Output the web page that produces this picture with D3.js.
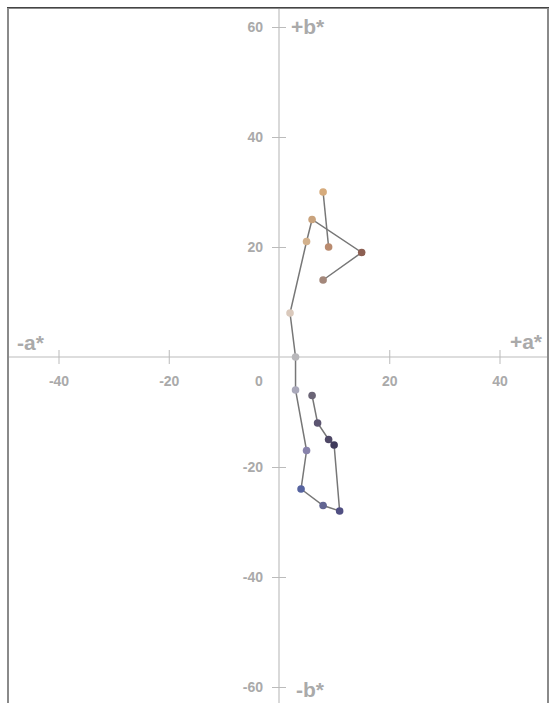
<!DOCTYPE html>
<html>
<head>
<meta charset="utf-8">
<script src="https://cdn.jsdelivr.net/npm/d3@7"></script>
<style>
  body { margin: 0; background: #fff; }
  svg { display: block; }
  text { font-family: "Liberation Sans", Arial, Helvetica, sans-serif; }
</style>
</head>
<body>
<script>
// a*b* chromaticity plot

let w = 553;
let h = 703;

// separate segment (two points)
let segA = [8, 9];
let segB = [30, 20];
let segColors = ['#d6ab7c', '#b98b6f'];

// main chain
let chainA = [8, 15, 6, 5, 2, 3, 3, 5, 4, 8, 11, 10, 9, 7, 6];
let chainB = [14, 19, 25, 21, 8, 0, -6, -17, -24, -27, -28, -16, -15, -12, -7];
let chainColors = ['#a3877a', '#8c5f52', '#c9a37d', '#d3b18c', '#dac9bc', '#b9b8bb',
    '#a9a8ba', '#8782ab', '#56639f', '#626592', '#504f82', '#3f3a5b', '#4e4866',
    '#5c5571', '#6b6576'];

let xTicks = [-40, -20, 20, 40];
let yTicks = [-60, -40, -20, 20, 40, 60];

let svg = d3.select('body').append('svg').attr('width', w).attr('height', h);

let x = d3.scaleLinear().domain([-40, 40]).range([58.5, 499.5]);
let y = d3.scaleLinear().domain([60, -60]).range([27, 687]);

// frame
svg.append('rect')
    .attr('x', 8).attr('y', 8)
    .attr('width', 540).attr('height', 720)
    .attr('fill', 'none')
    .attr('stroke', '#8a8a8a')
    .attr('stroke-width', 2);
svg.append('line')
    .attr('x1', 7).attr('x2', 549)
    .attr('y1', 7.5).attr('y2', 7.5)
    .attr('stroke', '#444').attr('stroke-width', 1);

let fmt = d => String(d);

// x axis
let gx = svg.append('g')
    .attr('transform', `translate(0,${y(0)})`)
    .call(d3.axisBottom(x).tickValues(xTicks).tickFormat(fmt).tickSize(7).tickPadding(0));
gx.select('.domain').remove();
gx.append('line')
    .attr('x1', 9).attr('x2', 547)
    .attr('stroke', '#bbb').attr('stroke-width', 1);
gx.selectAll('.tick line').attr('y1', -7).attr('y2', 7).attr('stroke', '#bbb');
gx.selectAll('.tick text')
    .attr('y', 29).attr('dy', 0)
    .attr('fill', '#aaa')
    .attr('font-size', '14px')
    .attr('font-weight', 'bold')
    .attr('font-family', '"Liberation Sans", Arial, sans-serif');

// y axis
let gy = svg.append('g')
    .attr('transform', `translate(${x(0)},0)`)
    .call(d3.axisLeft(y).tickValues(yTicks).tickFormat(fmt).tickSize(7).tickPadding(0));
gy.select('.domain').remove();
gy.insert('line', ':first-child')
    .attr('y1', 9).attr('y2', h)
    .attr('stroke', '#ccc').attr('stroke-width', 1.5);
gy.selectAll('.tick line').attr('x1', -7).attr('x2', 7).attr('stroke', '#bbb');
gy.selectAll('.tick text')
    .attr('x', -16)
    .attr('fill', '#aaa')
    .attr('font-size', '14px')
    .attr('font-weight', 'bold')
    .attr('font-family', '"Liberation Sans", Arial, sans-serif');

// origin label
svg.append('text')
    .text('0')
    .attr('x', x(0) - 20).attr('y', y(0) + 29)
    .attr('text-anchor', 'middle')
    .attr('fill', '#aaa')
    .attr('font-size', '14px')
    .attr('font-weight', 'bold');

// axis names
let names = [
    { t: '+b*', x: x(0) + 12, y: 34, anchor: 'start' },
    { t: '-b*', x: x(0) + 17, y: 697, anchor: 'start' },
    { t: '-a*', x: 17, y: y(0) - 7, anchor: 'start' },
    { t: '+a*', x: 542, y: y(0) - 8, anchor: 'end' }
];
svg.selectAll('.axname')
    .data(names)
    .enter()
    .append('text')
    .attr('class', 'axname')
    .text(d => d.t)
    .attr('x', d => d.x)
    .attr('y', d => d.y)
    .attr('text-anchor', d => d.anchor)
    .attr('fill', '#aaa')
    .attr('font-size', '21px')
    .attr('font-weight', 'bold');

// lines
let segPts = segA.map((a, i) => ({ a: a, b: segB[i], c: segColors[i] }));
let chainPts = chainA.map((a, i) => ({ a: a, b: chainB[i], c: chainColors[i] }));

let line = d3.line().x(d => x(d.a)).y(d => y(d.b));

svg.selectAll('.path')
    .data([segPts, chainPts])
    .enter()
    .append('path')
    .attr('d', line)
    .attr('fill', 'none')
    .attr('stroke', '#777')
    .attr('stroke-width', 1.5);

svg.selectAll('circle')
    .data(segPts.concat(chainPts))
    .enter()
    .append('circle')
    .attr('cx', d => x(d.a))
    .attr('cy', d => y(d.b))
    .attr('r', 3.8)
    .attr('fill', d => d.c);
</script>
</body>
</html>
